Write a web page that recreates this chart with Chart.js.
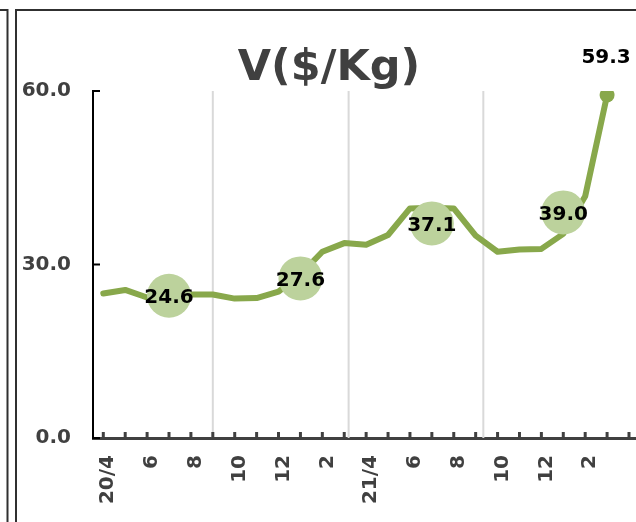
<!DOCTYPE html>
<html>
<head>
<meta charset="utf-8">
<script src="https://cdn.jsdelivr.net/npm/chart.js@4.4.1/dist/chart.umd.min.js"></script>
<style>
html,body{margin:0;padding:0;background:#fff;overflow:hidden;width:636px;height:522px}
canvas{display:block}
</style>
</head>
<body>
<canvas id="c" width="636" height="522" style="width:636px;height:522px"></canvas>
<script>
// ---- data (monthly, Apr 2020 .. Mar 2022) ----
const monthIndex = [0,1,2,3,4,5,6,7,8,9,10,11,12,13,14,15,16,17,18,19,20,21,22,23];
const priceValues = [25.0,25.6,24.3,24.5,24.8,24.8,24.1,24.2,25.3,28.3,32.2,33.7,33.4,35.1,39.7,39.8,39.7,35.0,32.2,32.6,32.7,35.3,41.8,59.3];
const xTickLabels = ['20/4','','6','','8','','10','','12','','2','','21/4','','6','','8','','10','','12','','2','',''];
const xTickPositions = [0,1,2,3,4,5,6,7,8,9,10,11,12,13,14,15,16,17,18,19,20,21,22,23,24];
const avgIndex = [3,9,15,21];
const avgValues = [24.6,27.6,37.1,39.0];
const dividerPositions = [5, 11.2, 17.35];
const yTicks = [0,30,60];

const FONT = 'DejaVu Sans';
const lineColor = '#88a84b';
const circleColor = '#bcd29c';
const axisGray = '#404040';

const lineData = monthIndex.map((m,i)=>({x:m,y:priceValues[i]}));
const avgData = avgIndex.map((m,i)=>({x:m,y:avgValues[i]}));

const decor = {
  id:'decor',
  beforeDraw(chart){
    const ctx = chart.ctx;
    ctx.save();
    ctx.strokeStyle = '#303030';
    ctx.lineWidth = 2;
    ctx.beginPath();
    ctx.moveTo(16,522); ctx.lineTo(16,10); ctx.lineTo(642,10);
    ctx.moveTo(0,10); ctx.lineTo(7.5,10); ctx.lineTo(7.5,522);
    ctx.stroke();
    ctx.restore();
  },
  beforeDatasetsDraw(chart){
    const ctx = chart.ctx, xs = chart.scales.x, ys = chart.scales.y;
    ctx.save();
    ctx.strokeStyle = '#d9d9d9';
    ctx.lineWidth = 2;
    const top = ys.getPixelForValue(60), bottom = ys.getPixelForValue(0);
    dividerPositions.forEach(d=>{
      const px = xs.getPixelForValue(d);
      ctx.beginPath(); ctx.moveTo(px,top); ctx.lineTo(px,bottom); ctx.stroke();
    });
    ctx.restore();
  },
  afterDatasetsDraw(chart){
    const ctx = chart.ctx;
    ctx.save();
    ctx.font = 'bold 20px "' + FONT + '"';
    ctx.fillStyle = '#000';
    ctx.textAlign = 'center';
    ctx.textBaseline = 'middle';
    const avgMeta = chart.getDatasetMeta(0);
    avgMeta.data.forEach((el,i)=>{
      ctx.fillText(avgValues[i].toFixed(1), el.x, el.y + 2);
    });
    const lineMeta = chart.getDatasetMeta(1);
    const last = lineMeta.data[lineMeta.data.length-1];
    ctx.fillText(priceValues[priceValues.length-1].toFixed(1), last.x - 1, last.y - 37);
    ctx.restore();
  },
  afterDraw(chart){
    const ctx = chart.ctx, xs = chart.scales.x, ys = chart.scales.y;
    ctx.save();
    ctx.strokeStyle = axisGray; ctx.lineWidth = 3;
    const base = ys.getPixelForValue(0);
    xs.ticks.forEach(t=>{
      const px = xs.getPixelForValue(t.value);
      ctx.beginPath(); ctx.moveTo(px, base); ctx.lineTo(px, base-6); ctx.stroke();
    });
    ctx.strokeStyle = '#000'; ctx.lineWidth = 2;
    const left = xs.left;
    yTicks.forEach(v=>{
      const py = ys.getPixelForValue(v);
      ctx.beginPath(); ctx.moveTo(left, py); ctx.lineTo(left+7, py); ctx.stroke();
    });
    ctx.restore();
  }
};

new Chart(document.getElementById('c'), {
  type:'line',
  data:{
    datasets:[
      {
        label:'avg',
        data:avgData,
        showLine:false,
        pointRadius:22,
        pointHoverRadius:22,
        pointBackgroundColor:circleColor,
        pointBorderWidth:0,
        pointBorderColor:circleColor
      },
      {
        label:'V',
        data:lineData,
        borderColor:lineColor,
        borderWidth:6,
        borderCapStyle:'round',
        borderJoinStyle:'round',
        tension:0,
        pointRadius:(c)=> c.dataIndex === priceValues.length-1 ? 7.5 : 0,
        pointHoverRadius:(c)=> c.dataIndex === priceValues.length-1 ? 7.5 : 0,
        pointBackgroundColor:lineColor,
        pointBorderWidth:0,
        pointBorderColor:lineColor
      }
    ]
  },
  options:{
    responsive:false,
    devicePixelRatio:1,
    animation:false,
    events:[],
    layout:{autoPadding:false,padding:{left:22,right:0,top:0,bottom:0}},
    plugins:{
      legend:{display:false},
      tooltip:{enabled:false},
      title:{
        display:true,
        text:'V($/Kg)',
        color:axisGray,
        font:{family:FONT,size:43,weight:'bold',lineHeight:1},
        padding:{top:47,bottom:1}
      }
    },
    scales:{
      x:{
        type:'linear',
        bounds:'data',
        min:-0.47,
        max:24.32,
        grid:{display:false,drawTicks:false},
        border:{display:true,color:axisGray,width:3},
        afterBuildTicks(s){ s.ticks = xTickPositions.map(v=>({value:v})); },
        afterFit(s){ s.height = 84; s.paddingLeft = 0; s.paddingRight = 0; },
        ticks:{
          autoSkip:false,
          maxRotation:90,
          minRotation:90,
          padding:17,
          labelOffset:5,
          color:axisGray,
          font:{family:FONT,size:20,weight:'bold'},
          callback:(v)=> Number.isInteger(v) ? (xTickLabels[v] || '') : ''
        }
      },
      y:{
        min:0,
        max:60,
        grid:{display:false,drawTicks:false},
        border:{display:true,color:'#000',width:2},
        afterFit(s){ s.width = 71; },
        ticks:{
          stepSize:30,
          padding:22,
          color:axisGray,
          font:{family:FONT,size:20,weight:'bold'},
          callback:(v)=> v.toFixed(1)
        }
      }
    }
  },
  plugins:[decor]
});
</script>
</body>
</html>
